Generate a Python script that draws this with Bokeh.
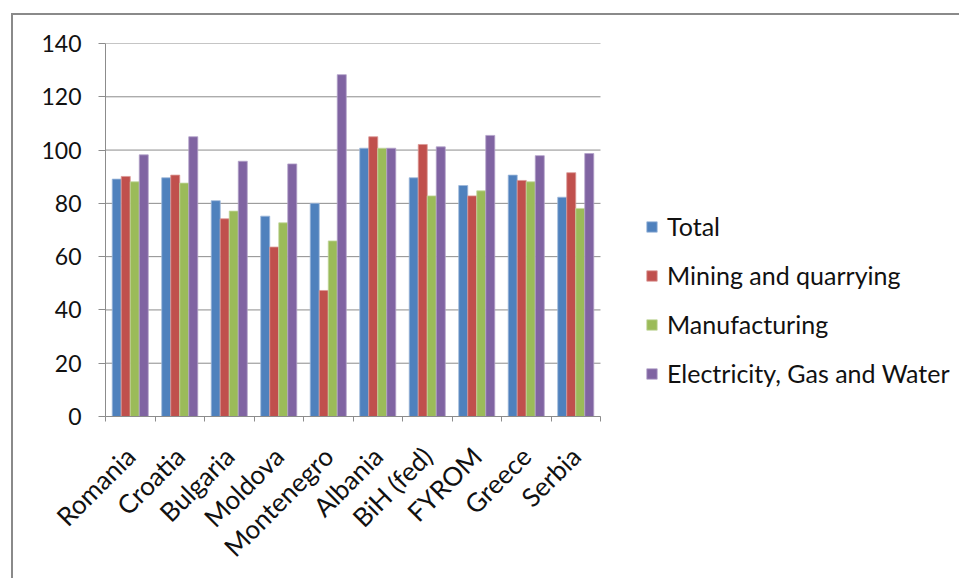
from bokeh.plotting import figure
from bokeh.models import (ColumnDataSource, FixedTicker, Legend, LegendItem,
                          Range1d)
from bokeh.embed import file_html
from bokeh.resources import INLINE
from math import pi

# Industrial production index by country and sector
countries = ["Romania", "Croatia", "Bulgaria", "Moldova", "Montenegro",
             "Albania", "BiH (fed)", "FYROM", "Greece", "Serbia"]
total = [89.1, 89.6, 81.0, 75.2, 80.0, 100.7, 89.6, 86.7, 90.6, 82.3]
mining = [90.1, 90.6, 74.2, 63.6, 47.3, 105.0, 102.1, 82.8, 88.6, 91.5]
manufacturing = [88.1, 87.6, 77.1, 72.7, 65.9, 100.7, 82.8, 84.7, 88.1, 78.1]
electricity = [98.2, 105.0, 95.8, 94.8, 128.3, 100.7, 101.2, 105.5, 97.9, 98.7]

series_names = ["Total", "Mining and quarrying", "Manufacturing",
                "Electricity, Gas and Water"]
series_values = [total, mining, manufacturing, electricity]
colors = ["#4F81BD", "#C0504D", "#9BBB59", "#8064A2"]
edges = ["#9DB8DA", "#DA9896", "#C3D79E", "#B3A2C9"]
y_ticks = [0, 20, 40, 60, 80, 100, 120, 140]

FONT = "Lato"
GRID = "#8C8C8C"

n = len(countries)
centers = [i + 0.5 for i in range(n)]

W, H = 948, 565
LEFT, TOP, BOTTOM = 92, 28, 164
CAT_PX = 49.5                      # pixels per country group
x_end = (W - LEFT) / CAT_PX        # frame runs to the right edge; legend sits in it

p = figure(width=W, height=H, output_backend="svg", toolbar_location=None,
           x_range=Range1d(0, x_end), y_range=Range1d(0, 140),
           min_border_left=LEFT, min_border_right=0,
           min_border_top=TOP, min_border_bottom=BOTTOM)
p.outline_line_color = None
p.background_fill_color = "white"
p.border_fill_color = "white"
# chart area border along the top and left edges
p.styles = {"margin-left": "11px", "margin-top": "13px",
            "border-left": "2px solid #8A8A8A",
            "border-top": "2px solid #8A8A8A"}

# horizontal gridlines limited to the plotting area
p.xgrid.grid_line_color = None
p.ygrid.grid_line_color = None
p.segment(x0=[0] * len(y_ticks), x1=[n] * len(y_ticks), y0=y_ticks, y1=y_ticks,
          line_color=GRID, line_width=1)

bar_w = 0.182
offsets = [-1.5 * bar_w, -0.5 * bar_w, 0.5 * bar_w, 1.5 * bar_w]
renderers = []
for name, vals, col, edge, off in zip(series_names, series_values, colors, edges, offsets):
    src = ColumnDataSource(dict(x=[c + off for c in centers], top=vals))
    r = p.vbar(x="x", top="top", width=bar_w, bottom=0, source=src,
               fill_color=col, line_color=edge, line_width=0.8)
    renderers.append(r)

# x axis: labels at group centres, small ticks at group boundaries
p.xaxis.bounds = (0, n)
p.xaxis.ticker = FixedTicker(ticks=centers, minor_ticks=list(range(n + 1)))
p.xaxis.major_label_overrides = {c: name for c, name in zip(centers, countries)}
p.xaxis.major_label_orientation = pi / 4
p.xaxis.major_tick_line_color = None
p.xaxis.minor_tick_line_color = GRID
p.xaxis.minor_tick_out = 5
p.xaxis.minor_tick_in = 0
p.xaxis.axis_line_color = GRID
p.xaxis.major_label_text_font = FONT
p.xaxis.major_label_text_font_size = "26px"
p.xaxis.major_label_text_color = "#111111"
p.xaxis.major_label_standoff = 29

# y axis
p.yaxis.ticker = FixedTicker(ticks=y_ticks, minor_ticks=[])
p.yaxis.major_tick_out = 7
p.yaxis.major_tick_in = 0
p.yaxis.major_tick_line_color = GRID
p.yaxis.axis_line_color = GRID
p.yaxis.major_label_text_font = FONT
p.yaxis.major_label_text_font_size = "23px"
p.yaxis.major_label_text_color = "#111111"
p.yaxis.major_label_standoff = 17

legend = Legend(items=[LegendItem(label=nm, renderers=[r])
                       for nm, r in zip(series_names, renderers)],
                location=(540, 28), orientation="vertical",
                label_text_font=FONT, label_text_font_size="25px",
                label_text_color="#111111",
                glyph_width=13, glyph_height=13, label_height=25,
                spacing=19, padding=0, margin=0, label_standoff=9,
                border_line_color=None, background_fill_alpha=0)
p.add_layout(legend, "center")

open("out.html", "w").write(file_html(p, INLINE))
